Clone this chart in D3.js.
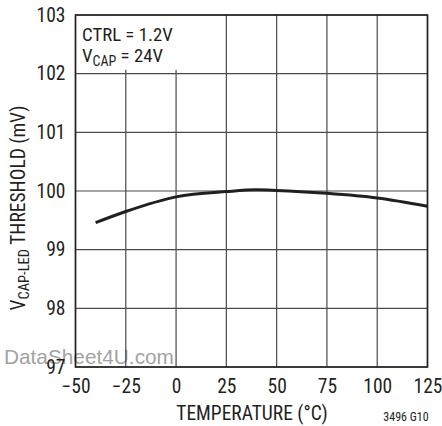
<!DOCTYPE html>
<html><head><meta charset="utf-8">
<script src="https://cdn.jsdelivr.net/npm/d3@7"></script>
<style>
body{margin:0;background:#fff;}
text{font-family:"Roboto Condensed","Liberation Sans Narrow","Arial Narrow",sans-serif;fill:#231f20;}
</style></head><body>
<svg id="c" width="442" height="426"></svg>
<script>
const temperatures = [-40, -25, 0, 25, 40, 50, 75, 100, 125];
const thresholds = [99.46, 99.65, 99.90, 99.99, 100.02, 100.01, 99.96, 99.88, 99.74];
const xTicks = [-50, -25, 0, 25, 50, 75, 100, 125];
const yTicks = [97, 98, 99, 100, 101, 102, 103];

const svg = d3.select("#c");
const L = 75.5, R = 427.5, T = 15, B = 367;
const x = d3.scaleLinear().domain([-50, 125]).range([L, R]);
const y = d3.scaleLinear().domain([97, 103]).range([B, T]);

// watermark (behind)
svg.append("text").attr("x", 4).attr("y", 363.5).attr("font-size", 20.8)
  .style("fill", "#a3a3a3").style("font-family", "'Liberation Sans', Arial, sans-serif").text("DataSheet4U.com");

// grid
const g = svg.append("g");
g.selectAll(".vg").data(xTicks).join("line")
  .attr("x1", d => x(d)).attr("x2", d => x(d)).attr("y1", d => (d < 25 && d > -50) ? y(102) - 4 : T).attr("y2", B)
  .attr("stroke", "#4a4a4a").attr("stroke-width", 1.2);
g.selectAll(".hg").data(yTicks).join("line")
  .attr("x1", L).attr("x2", R).attr("y1", d => y(d)).attr("y2", d => y(d))
  .attr("stroke", "#4a4a4a").attr("stroke-width", 1.2);
// frame
svg.append("rect").attr("x", L).attr("y", T).attr("width", R - L).attr("height", B - T)
  .attr("fill", "none").attr("stroke", "#231f20").attr("stroke-width", 1.6);

// axes labels
const xAxis = d3.axisBottom(x).tickValues(xTicks).tickSize(0).tickPadding(12)
  .tickFormat(d => d < 0 ? "\u2212" + Math.abs(d) : String(d));
const xa = svg.append("g").attr("transform", `translate(0,${B})`).call(xAxis);
xa.select(".domain").remove();
xa.selectAll("text").attr("font-size", 19.5).attr("font-family", null).style("fill", "#231f20");

const yAxis = d3.axisLeft(y).tickValues(yTicks).tickSize(0).tickPadding(10).tickFormat(d3.format("d"));
const ya = svg.append("g").attr("transform", `translate(${L},0)`).call(yAxis);
ya.select(".domain").remove();
ya.selectAll("text").attr("font-size", 19.5).attr("font-family", null).style("fill", "#231f20");

// curve
const line = d3.line().x((d, i) => x(temperatures[i])).y(d => y(d)).curve(d3.curveMonotoneX);
svg.append("path").attr("d", line(thresholds)).attr("fill", "none")
  .attr("stroke", "#231f20").attr("stroke-width", 3);

// annotation
svg.append("text").attr("x", 82).attr("y", 40.5).attr("font-size", 18.8).text("CTRL = 1.2V");
const t2 = svg.append("text").attr("x", 82).attr("y", 62).attr("font-size", 18.8);
t2.append("tspan").text("V");
t2.append("tspan").attr("dy", 3.5).attr("font-size", 14).text("CAP");
t2.append("tspan").attr("dy", -3.5).text(" = 24V");

// x title
svg.append("text").attr("x", 252).attr("y", 420).attr("text-anchor", "middle").attr("font-size", 19.5).text("TEMPERATURE (\u00B0C)");
svg.append("text").attr("x", 406).attr("y", 421).attr("text-anchor", "middle").attr("font-size", 12).text("3496 G10");

// y title
const yt = svg.append("text").attr("transform", "translate(25,208) rotate(-90)").attr("text-anchor", "middle").attr("font-size", 19.5);
yt.append("tspan").text("V");
yt.append("tspan").attr("dy", 3.5).attr("font-size", 14.5).text("CAP-LED");
yt.append("tspan").attr("dy", -3.5).text(" THRESHOLD (mV)");
</script></body></html>
